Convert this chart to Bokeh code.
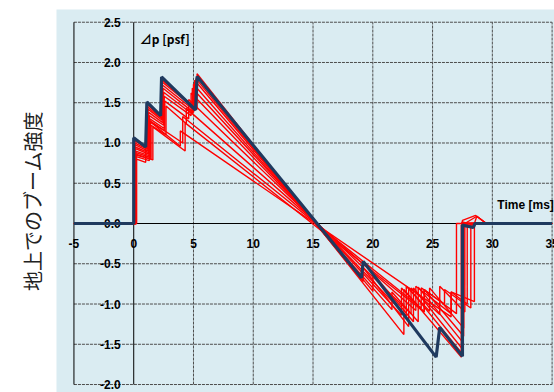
import math
from bokeh.plotting import figure
from bokeh.models import Range1d, Label, Title
from bokeh.core.properties import value
from bokeh.embed import file_html
from bokeh.resources import INLINE

# ---- data ----
x_ticks = [-5, 0, 5, 10, 15, 20, 25, 30, 35]
x_labels = ["-5", "0", "5", "10", "15", "20", "25", "30", "35"]
y_ticks = [2.5, 2.0, 1.5, 1.0, 0.5, 0.0, -0.5, -1.0, -1.5, -2.0]
y_labels = ["2.5", "2.0", "1.5", "1.0", "0.5", "0.0", "-0.5", "-1.0", "-1.5", "-2.0"]

navy_t = [-5, 0, 0, 1.0, 1.1, 2.25, 2.33, 5.17, 5.3, 19.05, 19.2, 25.3, 25.6, 27.5, 27.5, 28.4, 28.55, 35]
navy_p = [0, 0, 1.066, 0.95, 1.51, 1.34, 1.82, 1.41, 1.825, -0.675, -0.47, -1.66, -1.29, -1.65, -0.02, -0.05, 0.0, 0.0]

red_t = [
    [-5, 0.05, 0.05, 1.1, 1.1, 2.3, 2.3, 5.3, 5.3, 22.6, 22.6, 27.4, 27.4, 28.4, 28.4, 35],
    [-5, 0.08, 0.08, 1.15, 1.15, 2.35, 2.35, 5.2, 5.2, 19.2, 19.2, 23.0, 23.0, 27.5, 27.5, 35],
    [-5, 0.10, 0.10, 1.2, 1.2, 2.4, 2.4, 5.1, 5.1, 20.0, 20.0, 23.4, 23.4, 27.45, 27.45, 28.0, 35],
    [-5, 0.12, 0.12, 1.25, 1.25, 2.45, 2.45, 5.0, 5.0, 21.6, 21.6, 23.8, 23.8, 27.5, 27.5, 28.6, 29.5, 35],
    [-5, 0.14, 0.14, 1.3, 1.3, 2.5, 2.5, 4.9, 4.9, 22.4, 22.4, 24.3, 24.3, 27.6, 27.6, 35],
    [-5, 0.16, 0.16, 1.35, 1.35, 2.55, 2.55, 4.8, 4.8, 22.8, 22.8, 24.75, 24.75, 27.6, 27.6, 35],
    [-5, 0.18, 0.18, 1.4, 1.4, 2.6, 2.6, 4.6, 4.6, 23.2, 23.2, 25.6, 25.6, 27.7, 27.7, 28.7, 29.5, 35],
    [-5, 0.20, 0.20, 1.45, 1.45, 2.7, 2.7, 4.4, 4.4, 23.6, 23.6, 26.55, 26.55, 27.9, 27.9, 35],
    [-5, 0.22, 0.22, 1.3, 1.3, 4.1, 4.1, 24.05, 24.05, 26.0, 26.0, 28.2, 28.2, 35],
    [-5, 0.24, 0.24, 1.0, 1.0, 3.9, 3.9, 26.55, 26.55, 28.5, 28.5, 28.7, 29.5, 35],
    [-5, 0.2, 0.2, 1.6, 1.6, 4.3, 4.3, 24.3, 24.3, 27.0, 27.0, 28.4, 28.4, 35],
]
red_p = [
    [0, 0, 1.03, 0.94, 1.48, 1.32, 1.79, 1.42, 1.86, -1.38, -0.82, -1.66, -0.02, -0.02, 0.0, 0.0],
    [0, 0, 1.00, 0.92, 1.45, 1.30, 1.76, 1.42, 1.80, -0.72, -0.55, -1.28, -0.80, -1.62, 0.0, 0.0],
    [0, 0, 0.98, 0.90, 1.42, 1.28, 1.72, 1.40, 1.78, -0.84, -0.62, -1.22, -0.80, -1.55, 0.02, 0.0, 0.0],
    [0, 0, 0.95, 0.88, 1.38, 1.25, 1.68, 1.38, 1.73, -1.07, -0.85, -1.22, -0.79, -1.47, 0.04, 0.10, 0.0, 0.0],
    [0, 0, 0.93, 0.86, 1.34, 1.22, 1.63, 1.36, 1.68, -1.14, -0.80, -1.10, -0.82, -1.40, 0.0, 0.0],
    [0, 0, 0.90, 0.84, 1.30, 1.18, 1.58, 1.34, 1.62, -1.15, -0.78, -1.09, -0.80, -1.30, 0.0, 0.0],
    [0, 0, 0.88, 0.82, 1.26, 1.15, 1.52, 1.30, 1.54, -1.12, -0.80, -1.13, -0.78, -1.10, 0.0, 0.09, 0.0, 0.0],
    [0, 0, 0.85, 0.80, 1.22, 1.10, 1.46, 1.24, 1.43, -1.08, -0.78, -1.12, -0.85, -1.00, 0.0, 0.0],
    [0, 0, 0.83, 0.78, 1.28, 1.00, 1.33, -1.05, -0.80, -1.00, -0.82, -1.05, 0.0, 0.0],
    [0, 0, 0.80, 0.76, 1.31, 0.96, 1.15, -1.16, -0.85, -0.97, 0.0, 0.09, 0.0, 0.0],
    [0, 0, 0.86, 0.79, 1.20, 0.90, 1.25, -1.10, -0.82, -1.12, 0.0, 0.0, 0.0, 0.0],
]

y_title = "地上でのブーム強度"
p_title = "⊿p [psf]"
t_title = "Time [ms]"

# ---- figure ----
BG = "#daecf2"
NAVY = "#1f3a5f"
p = figure(width=554, height=392,
           x_range=Range1d(-6.46, 35.2), y_range=Range1d(-2.099, 2.658),
           output_backend="svg", toolbar_location=None,
           x_axis_location=None, y_axis_location=None,
           min_border_left=56, min_border_right=0, min_border_top=9, min_border_bottom=0,
           background_fill_color=BG, border_fill_color="white",
           outline_line_color=None)
p.xgrid.visible = False
p.ygrid.visible = False

xmin, xmax = min(x_ticks), max(x_ticks)
ymin, ymax = min(y_ticks), max(y_ticks)

# dashed grid
gx = [t for t in x_ticks if t not in (0, xmin)]
p.segment(x0=gx, y0=[ymin] * len(gx), x1=gx, y1=[ymax] * len(gx),
          line_color="#4d4d4d", line_dash="3 1", line_width=1)
gy = [t for t in y_ticks if t != 0]
p.segment(x0=[xmin] * len(gy), y0=gy, x1=[xmax] * len(gy), y1=gy,
          line_color="#4d4d4d", line_dash="3 1", line_width=1)
# solid axes + left border
p.segment(x0=[xmin, 0, xmin], y0=[0, ymin, ymin], x1=[xmax, 0, xmin], y1=[0, ymax, ymax],
          line_color="black", line_width=1)

# tick labels
p.text(x=[0] * len(y_ticks), y=y_ticks, text=y_labels, x_offset=-13,
       text_align="right", text_baseline="middle",
       text_font=value("Liberation Sans"), text_font_style="bold",
       text_font_size="12px", text_color="black")
p.text(x=x_ticks, y=[0] * len(x_ticks), text=x_labels, y_offset=20,
       text_align="center", text_baseline="middle",
       text_font=value("Liberation Sans"), text_font_style="bold",
       text_font_size="12px", text_color="black")

# data lines
p.multi_line(xs=red_t, ys=red_p, line_color="#ff0000", line_width=1.4)
p.line(navy_t, navy_p, line_color=NAVY, line_width=3.2)

# annotations
p.add_layout(Label(x=0, y=ymax, x_offset=6, y_offset=-16, text=p_title,
                   text_align="left", text_baseline="middle",
                   text_font="Noto Sans CJK JP", text_font_style="bold",
                   text_font_size="12px", text_color="black"))
p.add_layout(Label(x=x_ticks[-2], y=0, x_offset=5, y_offset=19, text=t_title,
                   text_align="left", text_baseline="middle",
                   text_font="Liberation Sans", text_font_style="bold",
                   text_font_size="12px", text_color="black"))
p.add_layout(Title(text=y_title, align="center", offset=-38, standoff=20,
                   text_font="Noto Sans CJK JP", text_font_size="20px",
                   text_font_style="normal", text_color="#222222"), "left")

open("out.html", "w").write(file_html(p, INLINE))
